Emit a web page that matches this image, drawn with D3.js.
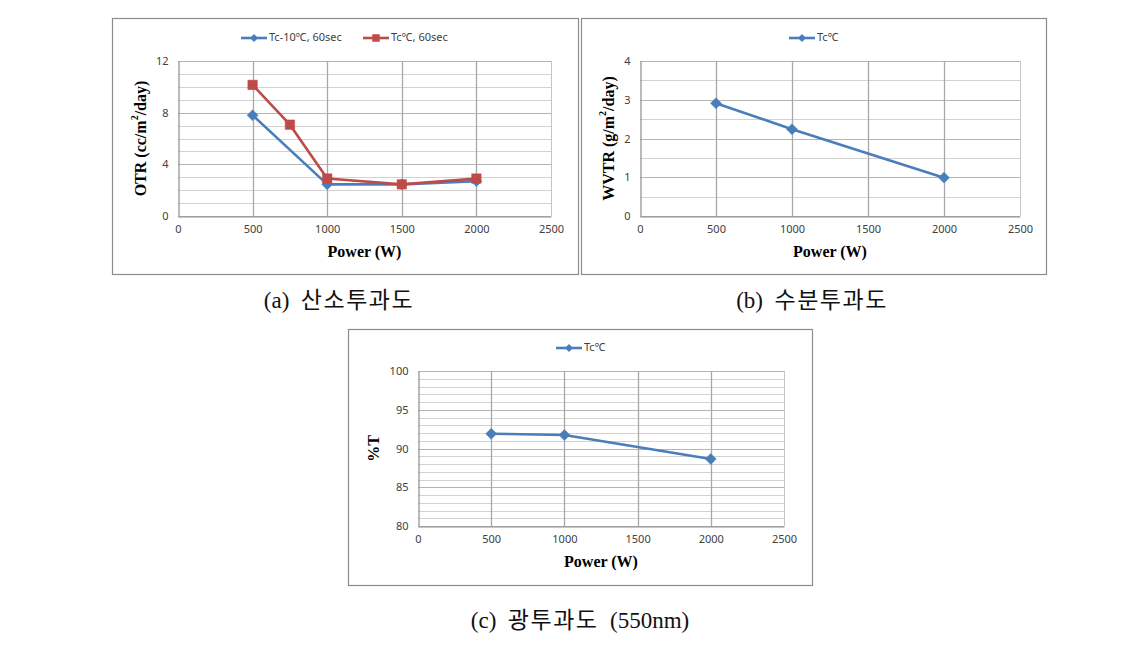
<!DOCTYPE html>
<html><head><meta charset="utf-8">
<script src="https://cdn.jsdelivr.net/npm/d3@7"></script>
<style>
body{margin:0;background:#fff;}
svg{display:block;}
</style></head>
<body>
<svg id="c" width="1130" height="647"></svg>
<script>
// ---- data ----
const xTicks = [0, 500, 1000, 1500, 2000, 2500];

const otrPowerA = [500, 1000, 1500, 2000];
const otrValuesA = [7.8, 2.45, 2.45, 2.7];          // Tc-10℃, 60sec
const otrPowerB = [500, 750, 1000, 1500, 2000];
const otrValuesB = [10.15, 7.07, 2.9, 2.45, 2.9];   // Tc℃, 60sec
const otrTicks = [0, 4, 8, 12];

const wvtrPower = [500, 1000, 2000];
const wvtrValues = [2.91, 2.24, 0.99];               // Tc℃
const wvtrTicks = [0, 1, 2, 3, 4];

const tPower = [500, 1000, 2000];
const tValues = [91.9, 91.75, 88.65];                // Tc℃
const tTicks = [80, 85, 90, 95, 100];

const seriesNames = ["Tc-10℃, 60sec", "Tc℃, 60sec", "Tc℃"];
const captions = ["(a) 산소투과도", "(b) 수분투과도", "(c) 광투과도 (550nm)"];

const BLUE = "#4a7ebb", RED = "#be4b48";
const svg = d3.select("#c");

function markerPath(kind, big){
  if (kind === "square") return d3.symbol().type(d3.symbolSquare).size(big ? 90 : 56)();
  return d3.symbol().type(d3.symbolSquare).size(big ? 60 : 32)();
}
function markerRot(kind){ return kind === "square" ? "" : " rotate(45)"; }

function drawChart(cfg){
  const g = svg.append("g");
  // frame
  g.append("rect").attr("x", cfg.frame[0]+0.5).attr("y", cfg.frame[1]+0.5)
    .attr("width", cfg.frame[2]-cfg.frame[0]).attr("height", cfg.frame[3]-cfg.frame[1])
    .attr("fill", "#fff").attr("stroke", "#8c8c8c").attr("stroke-width", 1.2);
  const [L, T, R, B] = cfg.plot;
  const x = d3.scaleLinear().domain([0, 2500]).range([L, R]);
  const y = d3.scaleLinear().domain(cfg.yDomain).range([B, T]);

  // horizontal minor gridlines
  const minor = d3.range(cfg.yDomain[0], cfg.yDomain[1] + 1e-9, cfg.minorStep);
  g.selectAll(null).data(minor).enter().append("line")
    .attr("x1", L).attr("x2", R)
    .attr("y1", d => Math.round(y(d)) + 0.5).attr("y2", d => Math.round(y(d)) + 0.5)
    .attr("stroke", d => cfg.yTicks.includes(+d.toFixed(6)) ? "#b4b4b4" : "#d2d2d2").attr("stroke-width", 1.2);
  // vertical gridlines
  g.selectAll(null).data(xTicks.slice(1)).enter().append("line")
    .attr("y1", T).attr("y2", B)
    .attr("x1", d => Math.round(x(d)) + 0.5).attr("x2", d => Math.round(x(d)) + 0.5)
    .attr("stroke", d => d === 2500 ? "#c4c4c4" : "#a8a8a8").attr("stroke-width", d => d === 2500 ? 1 : 1.3);

  // axes
  const yAxis = d3.axisLeft(y).tickValues(cfg.yTicks).tickFormat(d3.format("d")).tickSize(0).tickPadding(10);
  const ya = g.append("g").attr("transform", `translate(${Math.round(L)+0.5},0)`).call(yAxis);
  const xAxis = d3.axisBottom(x).tickValues(xTicks).tickFormat(d3.format("d")).tickSize(0).tickPadding(9);
  const xa = g.append("g").attr("transform", `translate(0,${Math.round(B)+0.5})`).call(xAxis);
  [ya, xa].forEach(a => {
    a.select(".domain").attr("stroke", "#8c8c8c").attr("stroke-width", 1.2);
    a.selectAll("text").attr("font-family", "'Noto Sans','DejaVu Sans',sans-serif")
      .attr("font-size", 11).attr("fill", "#404040");
  });

  // axis titles
  g.append("text").attr("x", (L + R) / 2).attr("y", B + 41)
    .attr("text-anchor", "middle").attr("font-family", "'Liberation Serif',serif")
    .attr("font-weight", "bold").attr("font-size", 16).text("Power (W)");
  const yt = g.append("text")
    .attr("transform", `translate(${L - cfg.yTitleOff},${(T + B) / 2}) rotate(-90)`)
    .attr("text-anchor", "middle").attr("dominant-baseline", "middle")
    .attr("font-family", "'Liberation Serif',serif").attr("font-weight", "bold").attr("font-size", 16);
  cfg.yTitle(yt);

  // series
  const line = d3.line().x(d => x(d[0])).y(d => y(d[1]));
  cfg.series.forEach(s => {
    const pts = s.xs.map((v, i) => [v, s.ys[i]]);
    g.append("path").datum(pts).attr("d", line).attr("fill", "none")
      .attr("stroke", s.color).attr("stroke-width", 2.6).attr("stroke-linejoin", "round");
    g.selectAll(null).data(pts).enter().append("path")
      .attr("d", markerPath(s.marker, true))
      .attr("transform", d => `translate(${x(d[0])},${y(d[1])})` + markerRot(s.marker))
      .attr("fill", s.color).attr("stroke", s.color).attr("stroke-width", 0.5);
  });

  // legend
  cfg.legend.forEach(l => {
    const ly = cfg.legendY;
    g.append("line").attr("x1", l.x).attr("x2", l.x + 26).attr("y1", ly).attr("y2", ly)
      .attr("stroke", l.color).attr("stroke-width", 2.6);
    g.append("path").attr("d", markerPath(l.marker, false))
      .attr("transform", `translate(${l.x + 13},${ly})` + markerRot(l.marker)).attr("fill", l.color);
    g.append("text").attr("x", l.x + 28).attr("y", ly).attr("dominant-baseline", "middle")
      .attr("font-family", "'Noto Sans','DejaVu Sans',sans-serif").attr("font-size", 11)
      .attr("fill", "#404040").text(l.name);
  });

  // caption: latin parts in serif, Korean part slightly spaced
  const cap = g.append("text").attr("x", cfg.caption[0]).attr("y", cfg.caption[1]).attr("text-anchor", "middle")
    .attr("font-family", "'Liberation Serif','Noto Sans CJK KR',serif").attr("font-size", 23)
    .attr("fill", "#111");
  cfg.caption[2].split(/([가-힣]+)/).filter(s => s.length).forEach(part => {
    const isKo = /[가-힣]/.test(part);
    cap.append("tspan").attr("letter-spacing", isKo ? 1.5 : 0)
      .attr("font-family", isKo ? "'Noto Sans CJK KR',sans-serif" : "'Liberation Serif',serif")
      .text(part.replace(/ /g, "\u00a0\u00a0"));
  });
}

drawChart({
  frame: [112, 18, 578, 274], plot: [178, 61, 551, 216],
  yDomain: [0, 12], yTicks: otrTicks, minorStep: 1, yTitleOff: 36,
  yTitle: t => { t.append("tspan").text("OTR (cc/m"); t.append("tspan").attr("font-size", 10).attr("dy", -6).text("2");
                 t.append("tspan").attr("dy", 6).text("/day)"); },
  series: [
    {xs: otrPowerA, ys: otrValuesA, color: BLUE, marker: "diamond"},
    {xs: otrPowerB, ys: otrValuesB, color: RED, marker: "square"}
  ],
  legendY: 38,
  legend: [
    {x: 241, color: BLUE, marker: "diamond", name: seriesNames[0]},
    {x: 363, color: RED, marker: "square", name: seriesNames[1]}
  ],
  caption: [339, 308, captions[0]]
});

drawChart({
  frame: [581, 18, 1046, 274], plot: [640, 61, 1020, 216],
  yDomain: [0, 4], yTicks: wvtrTicks, minorStep: 0.5, yTitleOff: 30,
  yTitle: t => { t.append("tspan").text("WVTR (g/m"); t.append("tspan").attr("font-size", 10).attr("dy", -6).text("2");
                 t.append("tspan").attr("dy", 6).text("/day)"); },
  series: [{xs: wvtrPower, ys: wvtrValues, color: BLUE, marker: "diamond"}],
  legendY: 38,
  legend: [{x: 789, color: BLUE, marker: "diamond", name: seriesNames[2]}],
  caption: [812, 308, captions[1]]
});

drawChart({
  frame: [348, 329, 812, 585], plot: [418, 371, 784, 526],
  yDomain: [80, 100], yTicks: tTicks, minorStep: 1, yTitleOff: 43,
  yTitle: t => { t.text("%T"); },
  series: [{xs: tPower, ys: tValues, color: BLUE, marker: "diamond"}],
  legendY: 348,
  legend: [{x: 556, color: BLUE, marker: "diamond", name: seriesNames[2]}],
  caption: [580, 628, captions[2]]
});
</script>
</body></html>
